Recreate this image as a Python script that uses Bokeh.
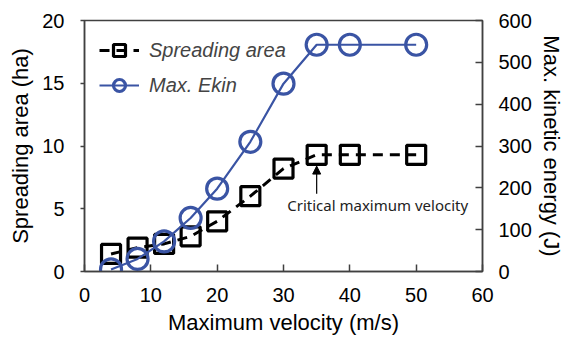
from bokeh.plotting import figure
from bokeh.models import Range1d, LinearAxis, Arrow, NormalHead, Label, FixedTicker, Legend
from bokeh.embed import file_html
from bokeh.resources import INLINE

velocity = [4, 8, 12, 16, 20, 25, 30, 35, 40, 50]
spreading_area = [1.4, 1.9, 2.2, 2.8, 4.0, 6.0, 8.2, 9.3, 9.3, 9.3]
max_ekin = [5, 30, 72, 128, 198, 310, 449, 542, 542, 542]

x_ticks = [0, 10, 20, 30, 40, 50, 60]
left_ticks = [0, 5, 10, 15, 20]
right_ticks = [0, 100, 200, 300, 400, 500, 600]

FONT = "Liberation Sans"
AX = "#404040"
BLUE = "#3A54A4"

p = figure(width=566, height=337, output_backend="svg", toolbar_location=None,
           x_range=Range1d(0, 60), y_range=Range1d(0, 20),
           min_border_left=84, min_border_right=76, min_border_top=20, min_border_bottom=64)
p.extra_y_ranges = {"ekin": Range1d(0, 600)}
p.xgrid.visible = False
p.ygrid.visible = False
p.outline_line_color = AX
p.outline_line_width = 1.5

l1 = p.line(velocity, spreading_area, line_color="black", line_width=3, line_dash="10 7")
s1 = p.scatter(velocity, spreading_area, marker="square", size=19, fill_color=None,
               line_color="black", line_width=3.2)
l2 = p.line(velocity, max_ekin, line_color=BLUE, line_width=2.2, y_range_name="ekin")
s2 = p.scatter(velocity, max_ekin, marker="circle", size=21, fill_color=None,
               line_color=BLUE, line_width=3.2, y_range_name="ekin")

legend = Legend(items=[("Spreading area", [l1, s1]), ("Max. Ekin", [l2, s2])],
                location="top_left")
legend.label_text_font = FONT
legend.label_text_font_style = "italic"
legend.label_text_font_size = "20px"
legend.background_fill_alpha = 0
legend.border_line_alpha = 0
legend.margin = 10
legend.padding = 5
legend.glyph_width = 40
legend.glyph_height = 30
legend.spacing = 5
legend.label_standoff = 10
p.add_layout(legend)

ry = LinearAxis(y_range_name="ekin", axis_label="Max. kinetic energy (J)")
p.add_layout(ry, "right")

p.xaxis.axis_label = "Maximum velocity (m/s)"
p.yaxis[0].axis_label = "Spreading area (ha)"

p.xaxis.ticker = FixedTicker(ticks=x_ticks)
p.yaxis[0].ticker = FixedTicker(ticks=left_ticks)
ry.ticker = FixedTicker(ticks=right_ticks)

for ax in [p.xaxis[0], p.yaxis[0], ry]:
    ax.axis_label_text_font = FONT
    ax.axis_label_text_font_style = "normal"
    ax.axis_label_text_font_size = "22px"
    ax.axis_label_text_color = "black"
    ax.major_label_text_font = FONT
    ax.major_label_text_font_size = "20px"
    ax.major_label_text_color = "black"
    ax.axis_line_color = AX
    ax.axis_line_width = 1.5
    ax.major_tick_line_color = AX
    ax.major_tick_line_width = 1.5
    ax.minor_tick_line_color = None

p.xaxis.major_tick_in = 7
p.xaxis.major_tick_out = 0
p.xaxis.major_label_standoff = 16
p.xaxis.axis_label_standoff = 5

p.yaxis[0].major_tick_in = 0
p.yaxis[0].major_tick_out = 4
p.yaxis[0].major_label_standoff = 16
p.yaxis[0].axis_label_standoff = 6

ry.major_tick_in = 7
ry.major_tick_out = 0
ry.major_label_standoff = 16
ry.axis_label_standoff = 4

p.add_layout(Arrow(end=NormalHead(size=8, fill_color="black", line_color="black"),
                   x_start=35, y_start=6.2, x_end=35, y_end=8.4,
                   line_color="black", line_width=1.2))
p.add_layout(Label(x=44.2, y=5.3, text="Critical maximum velocity",
                   text_font="Noto Sans", text_font_size="15px", text_color="#222222",
                   text_align="center", text_baseline="middle"))

open("out.html", "w").write(file_html(p, INLINE))
